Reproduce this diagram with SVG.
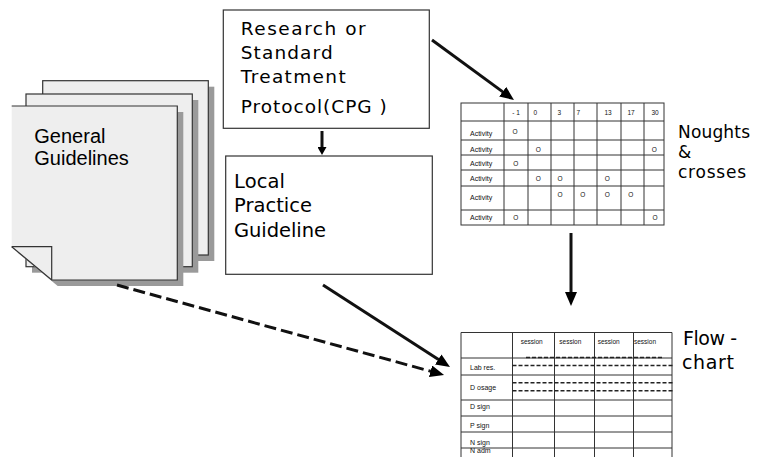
<svg xmlns="http://www.w3.org/2000/svg" width="762" height="457" viewBox="0 0 762 457">
<style>
.bg{fill:#ffffff}
.page{fill:#eeeeee;stroke:none}
.pageline{fill:none;stroke:#333333;stroke-width:1.2}
.shadow{fill:#9a9a9a}
.box{fill:#ffffff;stroke:#333333;stroke-width:1.2}
.big{font-family:"DejaVu Sans",Verdana,sans-serif;fill:#000000}
.arial{font-family:"Liberation Sans",Arial,sans-serif;fill:#000000}
.small{font-family:"Liberation Sans",Arial,sans-serif;font-size:7px;fill:#111111}
.tiny{font-family:"Liberation Sans",Arial,sans-serif;font-size:6.5px;fill:#111111}
.grid{stroke:#333333;stroke-width:1;fill:none}
.dash{stroke:#222222;stroke-width:1.6;stroke-dasharray:4 2;fill:none}
.conn{stroke:#111111;stroke-width:3;fill:none}
.conndash{stroke:#111111;stroke-width:3;fill:none;stroke-dasharray:12 5}
</style>
<defs>
<marker id="ah" markerUnits="userSpaceOnUse" markerWidth="14" markerHeight="12" refX="4" refY="6" orient="auto">
<path d="M0,0 L14,6 L0,12 z" fill="#000000"/>
</marker>
<marker id="ahs" markerUnits="userSpaceOnUse" markerWidth="8" markerHeight="9" refX="2" refY="4.5" orient="auto">
<path d="M0,0 L8,4.5 L0,9 z" fill="#000000"/>
</marker>
</defs>
<rect class="bg" x="0" y="0" width="762" height="457"/>

<g id="general-guidelines">
<rect class="shadow" x="48.7" y="86.7" width="165.6" height="174.3"/>
<rect class="page" x="42.7" y="80.7" width="165.6" height="174.3"/>
<rect class="pageline" x="42.7" y="80.7" width="165.6" height="174.3"/>
<rect class="shadow" x="32" y="100" width="166.3" height="172.7"/>
<rect class="page" x="26" y="94" width="166.3" height="172.7"/>
<rect class="pageline" x="26" y="94" width="166.3" height="172.7"/>
<path class="shadow" d="M17.7,112 L183.3,112 L183.3,286 L57.7,286 L17.7,252.7 z"/>
<path class="page" d="M11.7,106 L177.3,106 L177.3,280 L51.7,280 L11.7,246.7 z"/>
<path class="pageline" d="M11.7,106 L177.3,106 L177.3,280 L51.7,280 L11.7,246.7"/>
<path class="pageline" d="M11.7,246.7 L51.7,246.7 L51.7,280"/>
<text class="arial" x="34.3" y="142.7" font-size="20">General</text>
<text class="arial" x="34.3" y="165" font-size="20">Guidelines</text>
</g>

<g id="research-protocol">
<rect class="box" x="223.3" y="10" width="206" height="118.3"/>
<text class="big" x="240.7" y="35" font-size="18.5" textLength="125" lengthAdjust="spacing">Research  or</text>
<text class="big" x="240.7" y="59.3" font-size="18.5" textLength="92" lengthAdjust="spacing">Standard</text>
<text class="big" x="240.7" y="83.3" font-size="18.5" textLength="105" lengthAdjust="spacing">Treatment</text>
<text class="big" x="240.7" y="113.3" font-size="18.5" textLength="146" lengthAdjust="spacing">Protocol(CPG )</text>
</g>

<g id="local-practice">
<rect class="box" x="225.7" y="156" width="206.6" height="118.3"/>
<text class="big" x="234" y="187.7" font-size="19.5" textLength="51" lengthAdjust="spacing">Local</text>
<text class="big" x="234" y="211.7" font-size="19.5" textLength="78" lengthAdjust="spacing">Practice</text>
<text class="big" x="234" y="236.7" font-size="19.5" textLength="92" lengthAdjust="spacing">Guideline</text>
</g>

<g id="noughts-crosses">
<rect class="grid" x="461" y="103" width="203" height="122" fill="#ffffff"/>
<path class="grid" d="M504,103 V225 M528,103 V225 M551,103 V225 M574,103 V225 M597,103 V225 M621,103 V225 M644,103 V225"/>
<path class="grid" d="M461,121 H664 M461,140 H664 M461,155 H664 M461,170 H664 M461,186 H664 M461,210 H664"/>
<text class="tiny" x="512.3" y="115.3">- 1</text>
<text class="tiny" x="533.5" y="115.3">0</text>
<text class="tiny" x="557.5" y="115.3">3</text>
<text class="tiny" x="576.5" y="115.3">7</text>
<text class="tiny" x="604.5" y="115.3">13</text>
<text class="tiny" x="627.5" y="115.3">17</text>
<text class="tiny" x="651.5" y="115.3">30</text>
<text class="small" x="470" y="135.5">Activity</text>
<text class="small" x="470" y="152">Activity</text>
<text class="small" x="470" y="166">Activity</text>
<text class="small" x="470" y="181">Activity</text>
<text class="small" x="470" y="199.5">Activity</text>
<text class="small" x="470" y="219.5">Activity</text>
<g class="tiny" text-anchor="middle">
<text x="515" y="133.5">O</text>
<text x="538.3" y="152">O</text>
<text x="654.3" y="152">O</text>
<text x="515.7" y="166">O</text>
<text x="538.3" y="181">O</text>
<text x="560" y="181">O</text>
<text x="607.3" y="181">O</text>
<text x="560" y="197">O</text>
<text x="582.7" y="197">O</text>
<text x="607.3" y="197">O</text>
<text x="630.7" y="197">O</text>
<text x="515.7" y="219.5">O</text>
<text x="655" y="219.5">O</text>
</g>
<text class="big" x="678" y="138" font-size="17" textLength="72" lengthAdjust="spacing">Noughts</text>
<text class="big" x="678" y="157.5" font-size="17">&amp;</text>
<text class="big" x="678" y="178" font-size="17" textLength="68" lengthAdjust="spacing">crosses</text>
</g>

<g id="flow-chart">
<path class="grid" d="M461,332.5 H672 M461,332.5 V458 M672,332.5 V458 M512.5,332.5 V458 M554.5,332.5 V458 M594.5,332.5 V458 M633.5,332.5 V458"/>
<path class="grid" d="M461,358 H672 M461,375 H672 M461,400 H672 M461,416 H672 M461,432 H672 M461,448 H672"/>
<text class="tiny" x="520.7" y="344">session</text>
<text class="tiny" x="559.3" y="344">session</text>
<text class="tiny" x="597.7" y="344">session</text>
<text class="tiny" x="634" y="344">session</text>
<text class="small" x="470" y="369.5">Lab res.</text>
<text class="small" x="470" y="390">D osage</text>
<text class="small" x="470" y="409">D sign</text>
<text class="small" x="470" y="427.5">P sign</text>
<text class="small" x="470" y="444.5">N sign</text>
<text class="small" x="470" y="453">N adm</text>
<path class="dash" d="M526,357.5 H663" stroke-width="2"/>
<path class="dash" d="M512.5,365.5 H673"/>
<path class="dash" d="M512.5,382.7 H673"/>
<path class="dash" d="M512.5,390.7 H673"/>
<text class="big" x="683" y="345" font-size="19" textLength="54" lengthAdjust="spacing">Flow -</text>
<text class="big" x="682" y="369.3" font-size="19" textLength="52" lengthAdjust="spacing">chart</text>
</g>

<g id="connectors">
<line class="conn" x1="432" y1="40" x2="505.9" y2="94.1" marker-end="url(#ah)"/>
<line class="conn" x1="322" y1="131" x2="322" y2="149" stroke-width="2.5" marker-end="url(#ahs)"/>
<line class="conn" x1="571" y1="233" x2="571" y2="296" stroke-width="3.5" marker-end="url(#ah)"/>
<line class="conn" x1="323" y1="285" x2="441.6" y2="361.6" marker-end="url(#ah)"/>
<line class="conndash" x1="117" y1="285" x2="434.4" y2="372.3" marker-end="url(#ah)"/>
</g>
</svg>
